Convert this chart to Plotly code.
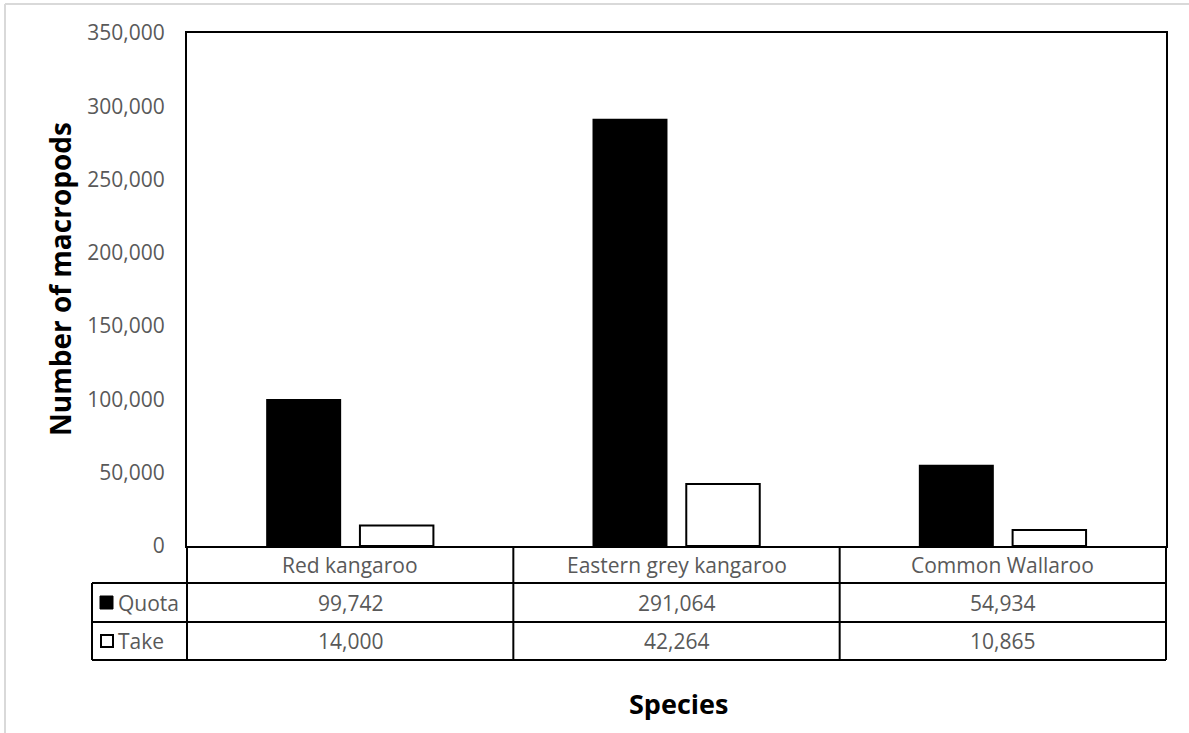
import plotly.graph_objects as go

# Harvest quota vs actual take by species
species = ["Red kangaroo", "Eastern grey kangaroo", "Common Wallaroo"]
quota = [99742, 291064, 54934]
take = [14000, 42264, 10865]
y_ticks = [0, 50000, 100000, 150000, 200000, 250000, 300000, 350000]

W, H = 1189, 733
# plot area in pixels
PL, PR, PT, PB = 187, 1166, 33, 546
TABLE_LEFT = 92
ROW_BOTTOMS = [583, 622, 660]

GRAY = "#595959"
FONT = "Open Sans"


def px(x):
    # pixel x -> paper x (paper spans the plot area)
    return (x - PL) / (PR - PL)


def py(y):
    # pixel y -> paper y
    return (PB - y) / (PB - PT)


fig = go.Figure()
fig.add_trace(go.Bar(
    x=species, y=quota, name="Quota",
    marker=dict(color="black", line=dict(color="black", width=1.5)),
))
fig.add_trace(go.Bar(
    x=species, y=take, name="Take",
    marker=dict(color="white", line=dict(color="black", width=2)),
))

shapes = []
line = dict(color="black", width=2)

# horizontal table rules
shapes.append(dict(type="line", xref="paper", yref="paper",
                   x0=px(PL), x1=px(PR), y0=py(ROW_BOTTOMS[0]), y1=py(ROW_BOTTOMS[0]),
                   line=line))
for yb in ROW_BOTTOMS:
    shapes.append(dict(type="line", xref="paper", yref="paper",
                       x0=px(TABLE_LEFT), x1=px(PR),
                       y0=py(yb), y1=py(yb), line=line))
shapes.append(dict(type="line", xref="paper", yref="paper",
                   x0=px(TABLE_LEFT), x1=px(TABLE_LEFT),
                   y0=py(ROW_BOTTOMS[0]), y1=py(ROW_BOTTOMS[-1]), line=line))
# vertical table rules
n = len(species)
cw = (PR - PL) / n
for i in range(n + 1):
    x = PL + i * cw
    shapes.append(dict(type="line", xref="paper", yref="paper",
                       x0=px(x), x1=px(x), y0=py(PB), y1=py(ROW_BOTTOMS[-1]),
                       line=line))

# legend keys in table row headers
shapes.append(dict(type="rect", xref="paper", yref="paper",
                   x0=px(100), x1=px(113), y0=py(596), y1=py(609),
                   fillcolor="black", line=dict(color="black", width=1)))
shapes.append(dict(type="rect", xref="paper", yref="paper",
                   x0=px(101), x1=px(113), y0=py(635), y1=py(647),
                   fillcolor="white", line=dict(color="black", width=2)))

# outer chart frame (top and left edges)
shapes.append(dict(type="line", xref="paper", yref="paper",
                   x0=px(5), x1=px(W), y0=py(4), y1=py(4),
                   line=dict(color="#d9d9d9", width=2)))
shapes.append(dict(type="line", xref="paper", yref="paper",
                   x0=px(5), x1=px(5), y0=py(4), y1=py(H),
                   line=dict(color="#d9d9d9", width=2)))

annotations = []
row_centers = [(PB + ROW_BOTTOMS[0]) / 2, (ROW_BOTTOMS[0] + ROW_BOTTOMS[1]) / 2,
               (ROW_BOTTOMS[1] + ROW_BOTTOMS[2]) / 2]
for i, name in enumerate(species):
    cx = PL + (i + 0.5) * cw
    for text, yc in [(name, row_centers[0]),
                     (f"{quota[i]:,}", row_centers[1]),
                     (f"{take[i]:,}", row_centers[2])]:
        annotations.append(dict(text=text, xref="paper", yref="paper",
                                x=px(cx), y=py(yc), showarrow=False,
                                xanchor="center", yanchor="middle",
                                font=dict(family=FONT, size=21, color=GRAY)))
for label, yc in [("Quota", row_centers[1]), ("Take", row_centers[2])]:
    annotations.append(dict(text=label, xref="paper", yref="paper",
                            x=px(116), y=py(yc), showarrow=False,
                            xanchor="left", yanchor="middle",
                            font=dict(family=FONT, size=21, color=GRAY)))

annotations.append(dict(text="<b>Species</b>", xref="paper", yref="paper",
                        x=px(678), y=py(704), showarrow=False,
                        xanchor="center", yanchor="middle",
                        font=dict(family=FONT, size=27, color="black")))
annotations.append(dict(text="<b>Number of macropods</b>", xref="paper", yref="paper",
                        x=px(60), y=py(279), showarrow=False, textangle=-90,
                        xanchor="center", yanchor="middle",
                        font=dict(family=FONT, size=28, color="black")))

fig.update_layout(
    width=W, height=H,
    margin=dict(l=PL, r=W - PR, t=PT, b=H - PB),
    paper_bgcolor="white", plot_bgcolor="white",
    barmode="group", bargap=0.43, bargroupgap=0.21,
    showlegend=False,
    shapes=shapes, annotations=annotations,
    font=dict(family=FONT, color=GRAY),
)
fig.update_xaxes(showticklabels=False, showgrid=False, ticks="",
                 showline=True, mirror=True, linecolor="black", linewidth=2,
                 zeroline=False)
fig.update_yaxes(range=[0, 350000], tickvals=y_ticks, tickformat=",",
                 showgrid=False, ticks="", ticklabelstandoff=16,
                 tickfont=dict(family=FONT, size=21, color=GRAY),
                 showline=True, mirror=True, linecolor="black", linewidth=2,
                 zeroline=False)

fig.write_html("out.html")
